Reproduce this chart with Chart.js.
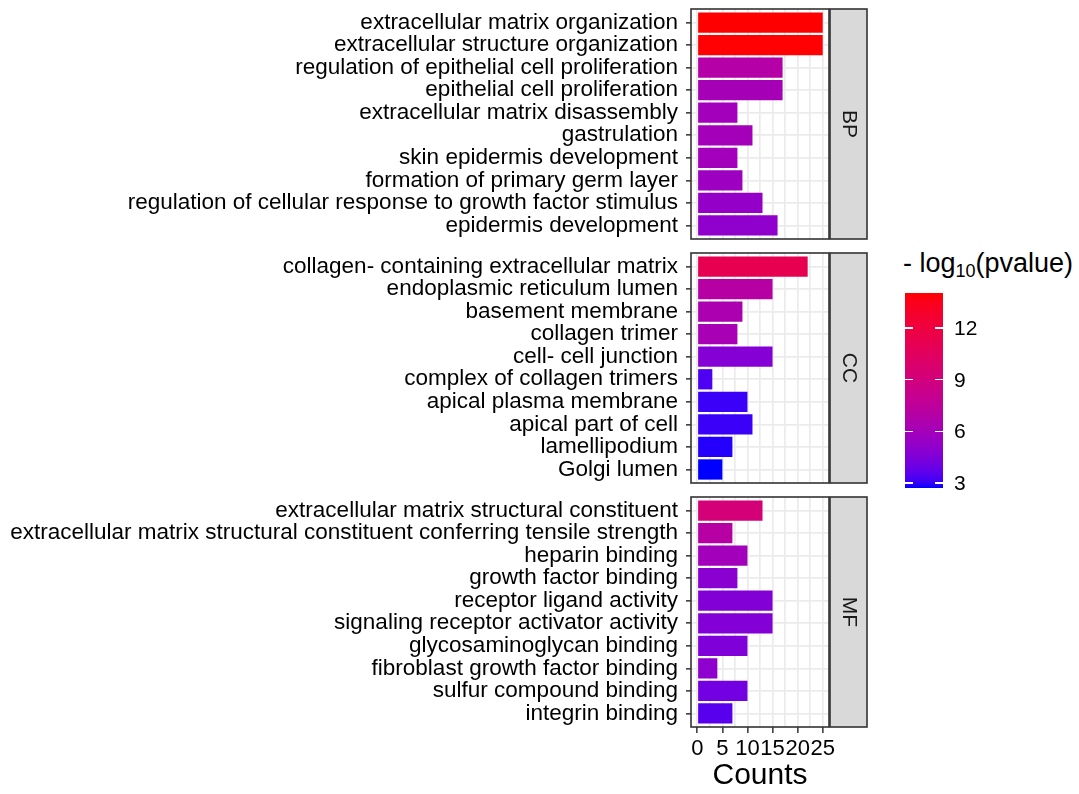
<!DOCTYPE html>
<html>
<head>
<meta charset="utf-8">
<script src="https://cdn.jsdelivr.net/npm/chart.js@4.4.1/dist/chart.umd.min.js"></script>
<style>
  html, body { margin: 0; padding: 0; background: #ffffff; }
  body { width: 1079px; height: 794px; position: relative; overflow: hidden;
         font-family: "Liberation Sans", Arial, sans-serif; }
  canvas.panel { position: absolute; left: 0; }
  #legend { position: absolute; left: 0; top: 0; }
  #legend-title { position: absolute; left: 903px; top: 248px; font-size: 27px; color: #000; white-space: nowrap; }
  #legend-title sub { font-size: 18px; vertical-align: -5px; line-height: 0; }
  #colorbar { position: absolute; left: 905px; top: 293px; width: 38px; height: 195px; }
  .cb-tick { position: absolute; height: 1.5px; width: 8px; background: #ffffff; }
  .cb-label { position: absolute; left: 954px; font-size: 21px; color: #000; line-height: 22px; }
</style>
</head>
<body>
<canvas id="bp" class="panel" width="880" height="248" style="top:0px"></canvas>
<canvas id="cc" class="panel" width="880" height="248" style="top:244px"></canvas>
<canvas id="mf" class="panel" width="880" height="306" style="top:488px"></canvas>
<div id="legend">
  <div id="legend-title">- log<sub>10</sub>(pvalue)</div>
  <div id="colorbar"></div>
</div>
<script>
// ---- Data: GO enrichment, one block per ontology ----
const bpTerms = [
  "extracellular matrix organization",
  "extracellular structure organization",
  "regulation of epithelial cell proliferation",
  "epithelial cell proliferation",
  "extracellular matrix disassembly",
  "gastrulation",
  "skin epidermis development",
  "formation of primary germ layer",
  "regulation of cellular response to growth factor stimulus",
  "epidermis development"
];
const bpCounts = [25, 25, 17, 17, 8, 11, 8, 9, 13, 16];
const bpLogP   = [14.03, 13.98, 6.9, 6.1, 5.9, 6.0, 5.9, 5.65, 5.3, 5.1];

const ccTerms = [
  "collagen- containing extracellular matrix",
  "endoplasmic reticulum lumen",
  "basement membrane",
  "collagen trimer",
  "cell- cell junction",
  "complex of collagen trimers",
  "apical plasma membrane",
  "apical part of cell",
  "lamellipodium",
  "Golgi lumen"
];
const ccCounts = [22, 15, 9, 8, 15, 3, 10, 11, 7, 5];
const ccLogP   = [11.2, 7.0, 6.45, 6.2, 4.7, 3.3, 3.05, 3.05, 2.85, 2.71];

const mfTerms = [
  "extracellular matrix structural constituent",
  "extracellular matrix structural constituent conferring tensile strength",
  "heparin binding",
  "growth factor binding",
  "receptor ligand activity",
  "signaling receptor activator activity",
  "glycosaminoglycan binding",
  "fibroblast growth factor binding",
  "sulfur compound binding",
  "integrin binding"
];
const mfCounts = [13, 7, 10, 8, 15, 15, 10, 4, 10, 7];
const mfLogP   = [9.2, 7.0, 5.9, 4.85, 4.6, 4.6, 4.5, 5.0, 4.1, 3.5];

const facetNames  = ["BP", "CC", "MF"];
const countTicks  = [0, 5, 10, 15, 20, 25];
const legendTicks = [3, 6, 9, 12];

// ---- Colour scale: blue -> red, interpolated in CIE Lab ----
const LOW = [0, 0, 255], HIGH = [255, 0, 0];
function toLin(c) { c /= 255; return c <= 0.04045 ? c / 12.92 : Math.pow((c + 0.055) / 1.055, 2.4); }
function toSrgb(c) { c = Math.min(1, Math.max(0, c)); return Math.round(255 * (c <= 0.0031308 ? 12.92 * c : 1.055 * Math.pow(c, 1 / 2.4) - 0.055)); }
const WX = 0.95047, WY = 1.0, WZ = 1.08883;
function rgb2lab(rgb) {
  const [r, g, b] = rgb.map(toLin);
  const X = (0.4124 * r + 0.3576 * g + 0.1805 * b) / WX;
  const Y = (0.2126 * r + 0.7152 * g + 0.0722 * b) / WY;
  const Z = (0.0193 * r + 0.1192 * g + 0.9505 * b) / WZ;
  const f = t => t > 0.008856 ? Math.cbrt(t) : (7.787 * t + 16 / 116);
  const fx = f(X), fy = f(Y), fz = f(Z);
  return [116 * fy - 16, 500 * (fx - fy), 200 * (fy - fz)];
}
function lab2rgb([L, a, b]) {
  const fy = (L + 16) / 116, fx = fy + a / 500, fz = fy - b / 200;
  const inv = t => t * t * t > 0.008856 ? t * t * t : (t - 16 / 116) / 7.787;
  const X = WX * inv(fx), Y = WY * inv(fy), Z = WZ * inv(fz);
  const r =  3.2406 * X - 1.5372 * Y - 0.4986 * Z;
  const g = -0.9689 * X + 1.8758 * Y + 0.0415 * Z;
  const bb = 0.0557 * X - 0.2040 * Y + 1.0570 * Z;
  return [toSrgb(r), toSrgb(g), toSrgb(bb)];
}
const labLow = rgb2lab(LOW), labHigh = rgb2lab(HIGH);
const allLogP = bpLogP.concat(ccLogP, mfLogP);
const vMin = Math.min(...allLogP), vMax = Math.max(...allLogP);
function colorFor(v) {
  const t = (v - vMin) / (vMax - vMin);
  const lab = labLow.map((c, i) => c + (labHigh[i] - c) * t);
  const [r, g, b] = lab2rgb(lab);
  return `rgb(${r},${g},${b})`;
}

// ---- Chart styling ----
Chart.defaults.font.family = "'Liberation Sans', Arial, sans-serif";
Chart.defaults.color = "#000000";
const GRID = "#EBEBEB";
const DARK = "#333333";
const minorAndMajor = [];
for (let i = 0; i < countTicks.length; i++) {
  minorAndMajor.push(countTicks[i]);
  if (i < countTicks.length - 1) minorAndMajor.push((countTicks[i] + countTicks[i + 1]) / 2);
}

// panel frame + facet strip on the right
const facetStrip = {
  id: "facetStrip",
  afterDraw(chart, args, opts) {
    const { ctx, chartArea: ca } = chart;
    ctx.save();
    ctx.lineWidth = 1.6;
    ctx.strokeStyle = DARK;
    ctx.strokeRect(ca.left, ca.top, ca.right - ca.left, ca.bottom - ca.top);
    const sx = ca.right + 1, sw = 37;
    ctx.fillStyle = "#D9D9D9";
    ctx.fillRect(sx, ca.top, sw, ca.bottom - ca.top);
    ctx.strokeRect(sx, ca.top, sw, ca.bottom - ca.top);
    ctx.translate(sx + sw / 2, (ca.top + ca.bottom) / 2);
    ctx.rotate(Math.PI / 2);
    ctx.fillStyle = "#1A1A1A";
    ctx.font = "21px 'Liberation Sans', Arial, sans-serif";
    ctx.textAlign = "center";
    ctx.textBaseline = "middle";
    ctx.fillText(opts.text, 0, 0);
    ctx.restore();
  }
};

function makePanel(id, terms, counts, logp, facet, isBottom) {
  const data = terms.map((t, i) => ({ x: counts[i], y: i + 1 }));
  return new Chart(document.getElementById(id), {
    type: "bar",
    data: {
      datasets: [{
        data: data,
        backgroundColor: logp.map(colorFor),
        borderWidth: 0,
        barPercentage: 0.9,
        categoryPercentage: 1.0
      }]
    },
    options: {
      indexAxis: "y",
      responsive: false,
      animation: false,
      events: [],
      layout: { padding: { left: 0, right: 51, top: 9, bottom: isBottom ? 0 : 9 } },
      plugins: {
        legend: { display: false },
        tooltip: { enabled: false },
        facetStrip: { text: facet }
      },
      scales: {
        x: {
          type: "linear",
          position: "bottom",
          min: -1.25,
          max: 26.25,
          offset: false,
          afterBuildTicks: s => { s.ticks = minorAndMajor.map(v => ({ value: v })); },
          afterFit: s => { s.height = isBottom ? 67 : 0; s.paddingLeft = 0; s.paddingRight = 0; },
          border: { display: false },
          grid: {
            offset: false,
            color: GRID,
            lineWidth: 1.7,
            drawTicks: isBottom,
            tickLength: 6,
            tickWidth: 1.5,
            tickColor: c => (c.tick && countTicks.includes(c.tick.value)) ? DARK : "rgba(0,0,0,0)"
          },
          ticks: {
            display: isBottom,
            autoSkip: false,
            maxRotation: 0,
            padding: 3,
            color: "#000000",
            font: { size: 22 },
            callback: v => countTicks.includes(v) ? String(v) : ""
          },
          title: {
            display: isBottom,
            text: "Counts",
            color: "#000000",
            font: { size: 30 },
            padding: { top: 0, bottom: 0 }
          }
        },
        y: {
          type: "linear",
          reverse: true,
          min: 0.4,
          max: 10.6,
          offset: false,
          afterBuildTicks: s => { s.ticks = terms.map((t, i) => ({ value: i + 1 })); },
          afterFit: s => { s.width = 691; s.paddingTop = 0; s.paddingBottom = 0; },
          border: { display: false },
          grid: {
            offset: false,
            color: GRID,
            lineWidth: 1.7,
            tickLength: 5,
            tickWidth: 1.5,
            tickColor: DARK
          },
          ticks: {
            autoSkip: false,
            padding: 8,
            color: "#000000",
            font: { size: 22.5 },
            callback: v => terms[Math.round(v) - 1]
          }
        }
      }
    },
    plugins: [facetStrip]
  });
}

makePanel("bp", bpTerms, bpCounts, bpLogP, facetNames[0], false);
makePanel("cc", ccTerms, ccCounts, ccLogP, facetNames[1], false);
makePanel("mf", mfTerms, mfCounts, mfLogP, facetNames[2], true);

// ---- Colour bar legend ----
(function buildLegend() {
  const bar = document.getElementById("colorbar");
  const legend = document.getElementById("legend");
  const top = 293, h = 195;
  const stops = [];
  for (let i = 0; i <= 40; i++) {
    const v = vMin + (vMax - vMin) * i / 40;
    stops.push(`${colorFor(v)} ${(i / 40 * 100).toFixed(2)}%`);
  }
  bar.style.background = `linear-gradient(to top, ${stops.join(", ")})`;
  legendTicks.forEach(v => {
    const y = top + (vMax - v) / (vMax - vMin) * h;
    [905, 935].forEach(x => {
      const t = document.createElement("div");
      t.className = "cb-tick";
      t.style.left = x + "px";
      t.style.top = (y - 0.75) + "px";
      legend.appendChild(t);
    });
    const lab = document.createElement("div");
    lab.className = "cb-label";
    lab.textContent = String(v);
    lab.style.top = (y - 11) + "px";
    legend.appendChild(lab);
  });
})();
</script>
</body>
</html>
